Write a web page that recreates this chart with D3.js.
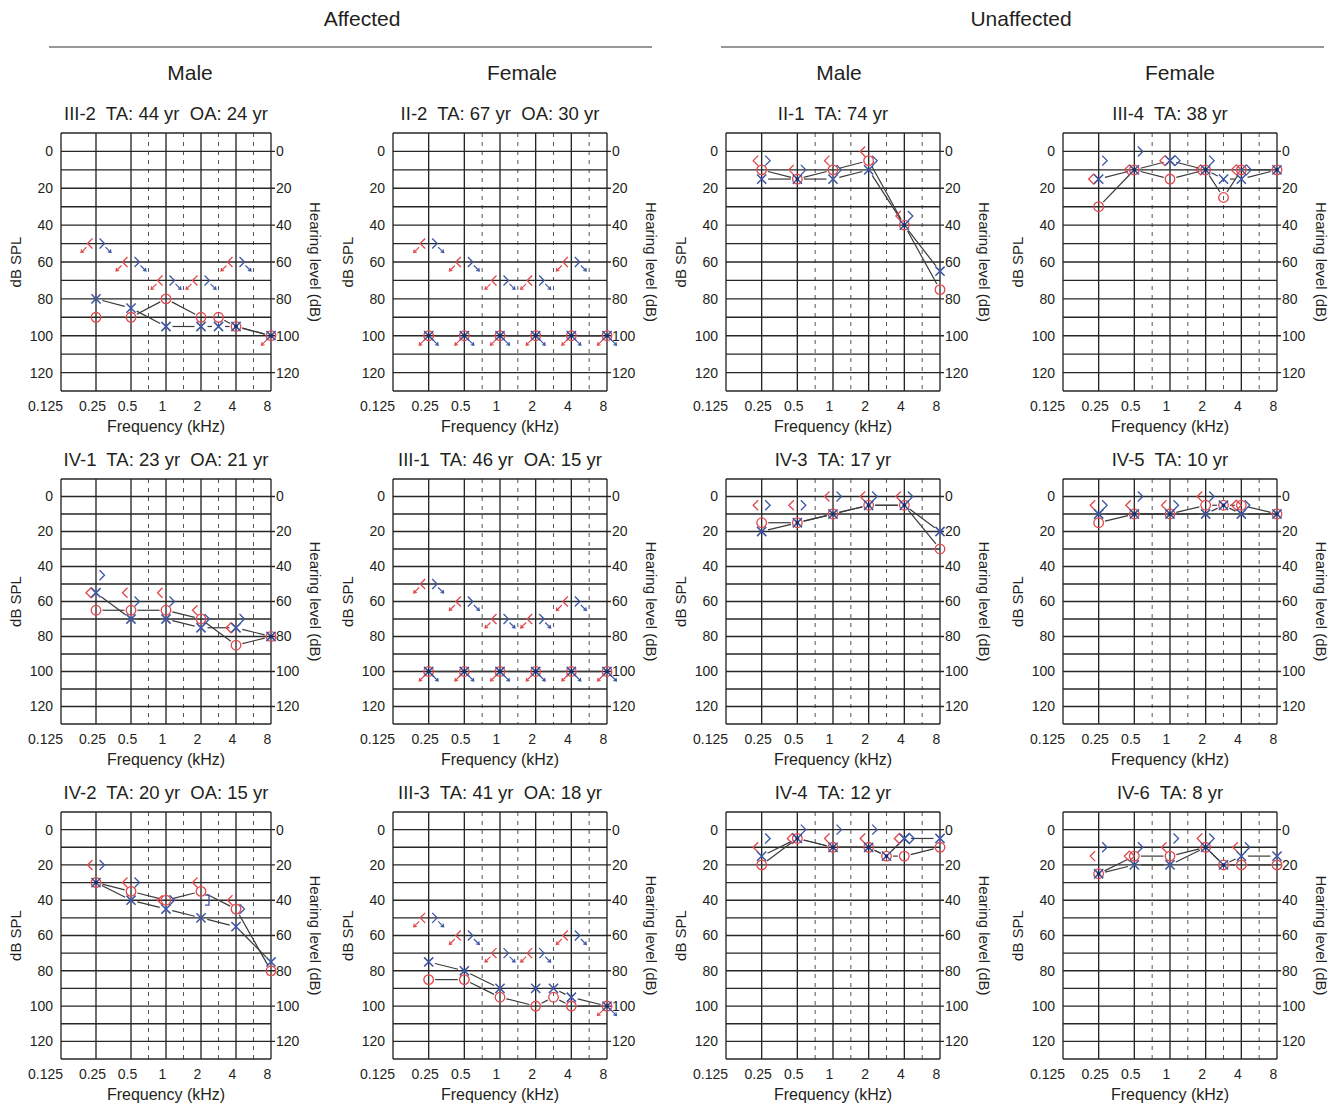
<!DOCTYPE html>
<html><head><meta charset="utf-8">
<script src="https://cdn.jsdelivr.net/npm/d3@7"></script>
<style>
body{margin:0;background:#fff;}
svg{display:block;font-family:"Liberation Sans",Arial,Helvetica,sans-serif;}
text{fill:#231f20;}
</style></head><body>
<svg id="c" width="1338" height="1111"></svg>
<script>
// ---------- DATA ----------
const groupLabels = ["Affected", "Unaffected"];
const sexLabels = ["Male", "Female", "Male", "Female"];
const freqLabels = ["0.125", "0.25", "0.5", "1", "2", "4", "8"];
const freqTicks = [0.125, 0.25, 0.5, 1, 2, 4, 8];
const interFreqs = [0.75, 1.5, 3, 6];
const dbTicks = [0, 20, 40, 60, 80, 100, 120];

const panelNames = ["III-2", "II-2", "II-1", "III-4", "IV-1", "III-1", "IV-3", "IV-5", "IV-2", "III-3", "IV-4", "IV-6"];
const panelTA = [44, 67, 74, 38, 23, 46, 17, 10, 20, 41, 12, 8];
const panelOA = [24, 30, null, null, 21, 15, null, null, 15, 18, null, null];

// right ear air conduction (red O)
const rightAC = [
  [[0.25,90],[0.5,90],[1,80],[2,90],[3,90],[4,95],[8,100]],
  [[0.25,100],[0.5,100],[1,100],[2,100],[4,100],[8,100]],
  [[0.25,10],[0.5,15],[1,10],[2,5],[4,40],[8,75]],
  [[0.25,30],[0.5,10],[1,15],[2,10],[3,25],[4,10],[8,10]],
  [[0.25,65],[0.5,65],[1,65],[2,70],[4,85],[8,80]],
  [[0.25,100],[0.5,100],[1,100],[2,100],[4,100],[8,100]],
  [[0.25,15],[0.5,15],[1,10],[2,5],[4,5],[8,30]],
  [[0.25,15],[0.5,10],[1,10],[2,5],[3,5],[4,5],[8,10]],
  [[0.25,30],[0.5,35],[1,40],[2,35],[4,45],[8,80]],
  [[0.25,85],[0.5,85],[1,95],[2,100],[3,95],[4,100],[8,100]],
  [[0.25,20],[0.5,5],[1,10],[2,10],[3,15],[4,15],[8,10]],
  [[0.25,25],[0.5,15],[1,15],[2,10],[3,20],[4,20],[8,20]]
];
// left ear air conduction (blue X)
const leftAC = [
  [[0.25,80],[0.5,85],[1,95],[2,95],[3,95],[4,95],[8,100]],
  [[0.25,100],[0.5,100],[1,100],[2,100],[4,100],[8,100]],
  [[0.25,15],[0.5,15],[1,15],[2,10],[4,40],[8,65]],
  [[0.25,15],[0.5,10],[1,5],[2,10],[3,15],[4,15],[8,10]],
  [[0.25,55],[0.5,70],[1,70],[2,75],[4,75],[8,80]],
  [[0.25,100],[0.5,100],[1,100],[2,100],[4,100],[8,100]],
  [[0.25,20],[0.5,15],[1,10],[2,5],[4,5],[8,20]],
  [[0.25,10],[0.5,10],[1,10],[2,10],[3,5],[4,10],[8,10]],
  [[0.25,30],[0.5,40],[1,45],[2,50],[4,55],[8,75]],
  [[0.25,75],[0.5,80],[1,90],[2,90],[3,90],[4,95],[8,100]],
  [[0.25,15],[0.5,5],[1,10],[2,10],[3,15],[4,5],[8,5]],
  [[0.25,25],[0.5,20],[1,20],[2,10],[3,20],[4,15],[8,15]]
];
// right ear bone conduction (red), shape: '<' or 'd' (diamond)
const rightBC = [
  [[0.25,50,"<"],[0.5,60,"<"],[1,70,"<"],[2,70,"<"],[4,60,"<"]],
  [[0.25,50,"<"],[0.5,60,"<"],[1,70,"<"],[2,70,"<"],[4,60,"<"]],
  [[0.25,5,"<"],[0.5,10,"<"],[1,5,"<"],[2,0,"<"],[4,35,"<"]],
  [[0.25,15,"d"],[0.5,10,"d"],[1,5,"d"],[2,10,"d"],[4,10,"d"]],
  [[0.25,55,"d"],[0.5,55,"<"],[1,55,"<"],[2,65,"<"],[4,75,"d"]],
  [[0.25,50,"<"],[0.5,60,"<"],[1,70,"<"],[2,70,"<"],[4,60,"<"]],
  [[0.25,5,"<"],[0.5,5,"<"],[1,0,"<"],[2,0,"<"],[4,0,"<"]],
  [[0.25,5,"<"],[0.5,5,"<"],[1,5,"<"],[2,0,"<"],[4,5,"d"]],
  [[0.25,20,"<"],[0.5,30,"<"],[1,40,"<"],[2,30,"<"],[4,40,"<"]],
  [[0.25,50,"<"],[0.5,60,"<"],[1,70,"<"],[2,70,"<"],[4,60,"<"]],
  [[0.25,10,"<"],[0.5,5,"d"],[1,5,"<"],[2,5,"<"],[4,5,"d"]],
  [[0.25,15,"<"],[0.5,15,"d"],[1,10,"<"],[2,5,"<"],[4,10,"<"]]
];
// left ear bone conduction (blue), shape: '>' , 'd' or ']'
const leftBC = [
  [[0.25,50,">"],[0.5,60,">"],[1,70,">"],[2,70,">"],[4,60,">"]],
  [[0.25,50,">"],[0.5,60,">"],[1,70,">"],[2,70,">"],[4,60,">"]],
  [[0.25,5,">"],[0.5,10,">"],[1,10,">"],[2,5,">"],[4,35,">"]],
  [[0.25,5,">"],[0.5,0,">"],[1,5,"d"],[2,5,">"],[4,10,"d"]],
  [[0.25,45,">"],[0.5,60,">"],[1,60,">"],[2,70,">"],[4,70,">"]],
  [[0.25,50,">"],[0.5,60,">"],[1,70,">"],[2,70,">"],[4,60,">"]],
  [[0.25,5,">"],[0.5,5,">"],[1,0,">"],[2,0,">"],[4,0,">"]],
  [[0.25,5,">"],[0.5,0,">"],[1,5,">"],[2,0,">"],[4,5,">"]],
  [[0.25,20,">"],[0.5,30,">"],[1,40,">"],[2,40,"]"],[4,45,">"]],
  [[0.25,50,">"],[0.5,60,">"],[1,70,">"],[2,70,">"],[4,60,">"]],
  [[0.25,5,">"],[0.5,0,">"],[1,0,">"],[2,0,">"],[4,5,"d"]],
  [[0.25,10,">"],[0.5,10,">"],[1,5,">"],[2,5,">"],[4,10,">"]]
];
// bone conduction "no response" flags per panel
const bcNoResp = [true, true, false, false, false, true, false, false, false, true, false, false];
// air conduction "no response" frequencies
const rightNR = [[8],[0.25,0.5,1,2,4,8],[],[],[],[0.25,0.5,1,2,4,8],[],[],[],[8],[],[]];
const leftNR  = [[],[0.25,0.5,1,2,4,8],[],[],[],[0.25,0.5,1,2,4,8],[],[],[],[8],[],[]];

// ---------- LAYOUT ----------
const COLS = [[61,271],[393,607],[726,940],[1063,1277]];
const ROWS = [[133,391],[479,724],[812,1059]];
const RED = "#e2464b", BLUE = "#3a55a5", INK = "#231f20", GRID = "#262626";

const svg = d3.select("#c");

// headers
const headerX = [[49,652],[721,1324]];
const headerCenters = [362, 1021];
groupLabels.forEach((t,i)=>{
  const [a,b] = headerX[i];
  svg.append("text").attr("x",headerCenters[i]).attr("y",26).attr("text-anchor","middle")
    .attr("font-size",21).text(t);
  svg.append("line").attr("x1",a).attr("x2",b).attr("y1",47).attr("y2",47)
    .attr("stroke","#333").attr("stroke-width",1.2);
});
const sexCenters = [190, 522, 839, 1180];
sexLabels.forEach((t,i)=>{
  svg.append("text").attr("x",sexCenters[i]).attr("y",80)
    .attr("text-anchor","middle").attr("font-size",21).text(t);
});

function oct(f){
  const o = Math.log2(f/0.125);
  const r = Math.round(o);
  return Math.abs(o-r) < 1e-6 ? r : Math.floor(o) + 0.5;
}

function arrowPath(x0,y0,x1,y1){
  const dx=x1-x0, dy=y1-y0, len=Math.hypot(dx,dy), ux=dx/len, uy=dy/len;
  const h=3.2, a=Math.PI*0.2;
  const bx=-ux, by=-uy;
  const r1x = bx*Math.cos(a)-by*Math.sin(a), r1y = bx*Math.sin(a)+by*Math.cos(a);
  const r2x = bx*Math.cos(-a)-by*Math.sin(-a), r2y = bx*Math.sin(-a)+by*Math.cos(-a);
  return `M${x0},${y0}L${x1},${y1}M${x1+r1x*h},${y1+r1y*h}L${x1},${y1}L${x1+r2x*h},${y1+r2y*h}`;
}

function drawPanel(i){
  const col = i % 4, row = Math.floor(i/4);
  const [L,R] = COLS[col], [T,B] = ROWS[row];
  const x = d3.scaleLinear().domain([0,6]).range([L,R]);
  const y = d3.scaleLinear().domain([-10,130]).range([T,B]);
  const g = svg.append("g");

  // dashed inter-octave lines
  interFreqs.forEach(f=>{
    g.append("line").attr("x1",x(oct(f))).attr("x2",x(oct(f))).attr("y1",T).attr("y2",B)
      .attr("stroke","#555").attr("stroke-width",1).attr("stroke-dasharray","4,5");
  });
  // horizontal grid
  d3.range(-10,131,10).forEach(v=>{
    const lab = dbTicks.includes(v);
    g.append("line").attr("x1",L).attr("x2",lab?R+4:R).attr("y1",y(v)).attr("y2",y(v))
      .attr("stroke",GRID).attr("stroke-width",1.35);
  });
  // vertical octave lines
  freqTicks.forEach(f=>{
    g.append("line").attr("x1",x(oct(f))).attr("x2",x(oct(f))).attr("y1",T).attr("y2",B)
      .attr("stroke",GRID).attr("stroke-width",1.35);
  });

  // axes labels
  const axL = d3.axisLeft(y).tickValues(dbTicks).tickSize(0).tickPadding(8);
  const gl = g.append("g").attr("transform",`translate(${L},0)`).call(axL);
  const axR = d3.axisRight(y).tickValues(dbTicks).tickSize(0).tickPadding(5);
  const gr = g.append("g").attr("transform",`translate(${R},0)`).call(axR);
  const axB = d3.axisBottom(x).tickValues(d3.range(7)).tickFormat((d)=>freqLabels[d]).tickSize(0).tickPadding(10);
  const gb = g.append("g").attr("transform",`translate(0,${B})`).call(axB);
  [gl,gr,gb].forEach(a=>{
    a.select(".domain").remove();
    a.selectAll("text").attr("font-size",14).attr("fill",INK).attr("font-family",null);
    a.attr("font-family",null);
  });
  gb.selectAll("text").attr("dx",(d)=> d===0 ? -16 : -4);

  g.append("text").attr("transform",`translate(${L-45},${(T+B)/2}) rotate(-90)`)
    .attr("text-anchor","middle").attr("dy","0.35em").attr("font-size",15).text("dB SPL");
  g.append("text").attr("transform",`translate(${R+44},${(T+B)/2}) rotate(90)`)
    .attr("text-anchor","middle").attr("dy","0.35em").attr("font-size",15).text("Hearing level (dB)");
  g.append("text").attr("x",(L+R)/2).attr("y",B+41).attr("text-anchor","middle")
    .attr("font-size",16).text("Frequency (kHz)");

  const title = panelNames[i] + "  TA: " + panelTA[i] + " yr" + (panelOA[i]!=null ? "  OA: " + panelOA[i] + " yr" : "");
  g.append("text").attr("x",(L+R)/2).attr("y",T-13).attr("text-anchor","middle")
    .attr("font-size",18.5).style("white-space","pre").text(title);

  // connecting lines (with gaps around markers)
  function series(data){
    for(let k=0;k<data.length-1;k++){
      const x0=x(oct(data[k][0])), y0=y(data[k][1]), x1=x(oct(data[k+1][0])), y1=y(data[k+1][1]);
      const len=Math.hypot(x1-x0,y1-y0); if(len<14) continue;
      const ux=(x1-x0)/len, uy=(y1-y0)/len, gap=6.5;
      g.append("line").attr("x1",x0+ux*gap).attr("y1",y0+uy*gap).attr("x2",x1-ux*gap).attr("y2",y1-uy*gap)
        .attr("stroke","#3a3a3a").attr("stroke-width",1.2);
    }
  }
  series(rightAC[i]);
  series(leftAC[i]);

  // bone conduction markers
  const sw = 1.3;
  rightBC[i].forEach(([f,v,s])=>{
    const px=x(oct(f)), py=y(v);
    let cx;
    if(s==="d"){ cx=px-5;
      g.append("path").attr("d",`M${cx},${py-5}L${cx-5},${py}L${cx},${py+5}L${cx+5},${py}Z`)
        .attr("fill","none").attr("stroke",RED).attr("stroke-width",sw);
    } else { cx=px-6;
      g.append("path").attr("d",`M${cx+2.5},${py-5}L${cx-2.5},${py}L${cx+2.5},${py+5}`)
        .attr("fill","none").attr("stroke",RED).attr("stroke-width",sw);
    }
    if(bcNoResp[i]) g.append("path").attr("d",arrowPath(cx-3.5,py+3.5,cx-9,py+9))
      .attr("fill","none").attr("stroke",RED).attr("stroke-width",1.1);
  });
  leftBC[i].forEach(([f,v,s])=>{
    const px=x(oct(f)), py=y(v);
    let cx;
    if(s==="d"){ cx=px+5;
      g.append("path").attr("d",`M${cx},${py-5}L${cx-5},${py}L${cx},${py+5}L${cx+5},${py}Z`)
        .attr("fill","none").attr("stroke",BLUE).attr("stroke-width",sw);
    } else if(s==="]"){ cx=px+6;
      g.append("path").attr("d",`M${cx-2},${py-5}L${cx+2},${py-5}L${cx+2},${py+5}L${cx-2},${py+5}`)
        .attr("fill","none").attr("stroke",BLUE).attr("stroke-width",sw);
    } else { cx=px+6;
      g.append("path").attr("d",`M${cx-2.5},${py-5}L${cx+2.5},${py}L${cx-2.5},${py+5}`)
        .attr("fill","none").attr("stroke",BLUE).attr("stroke-width",sw);
    }
    if(bcNoResp[i]) g.append("path").attr("d",arrowPath(cx+3.5,py+3.5,cx+9,py+9))
      .attr("fill","none").attr("stroke",BLUE).attr("stroke-width",1.1);
  });

  // air conduction markers
  rightAC[i].forEach(([f,v])=>{
    g.append("circle").attr("cx",x(oct(f))).attr("cy",y(v)).attr("r",4.8)
      .attr("fill","none").attr("stroke",RED).attr("stroke-width",1.3);
  });
  leftAC[i].forEach(([f,v])=>{
    const px=x(oct(f)), py=y(v), s=4.6;
    g.append("path").attr("d",`M${px-s},${py-s}L${px+s},${py+s}M${px+s},${py-s}L${px-s},${py+s}`)
      .attr("stroke",BLUE).attr("stroke-width",1.5);
    const same = rightAC[i].find(d=>d[0]===f && d[1]===v);
    if(same) g.append("circle").attr("cx",px).attr("cy",py).attr("r",1.8).attr("fill","#1e2a5e");
  });
  // air conduction no-response arrows
  rightNR[i].forEach(f=>{
    const d = rightAC[i].find(e=>e[0]===f); if(!d) return;
    const px=x(oct(f)), py=y(d[1]);
    g.append("path").attr("d",arrowPath(px-3.5,py+3.5,px-9.5,py+9.5))
      .attr("fill","none").attr("stroke",RED).attr("stroke-width",1.1);
  });
  leftNR[i].forEach(f=>{
    const d = leftAC[i].find(e=>e[0]===f); if(!d) return;
    const px=x(oct(f)), py=y(d[1]);
    g.append("path").attr("d",arrowPath(px+3.5,py+3.5,px+9.5,py+9.5))
      .attr("fill","none").attr("stroke",BLUE).attr("stroke-width",1.1);
  });
}

panelNames.forEach((_,i)=>drawPanel(i));
</script>
</body></html>
